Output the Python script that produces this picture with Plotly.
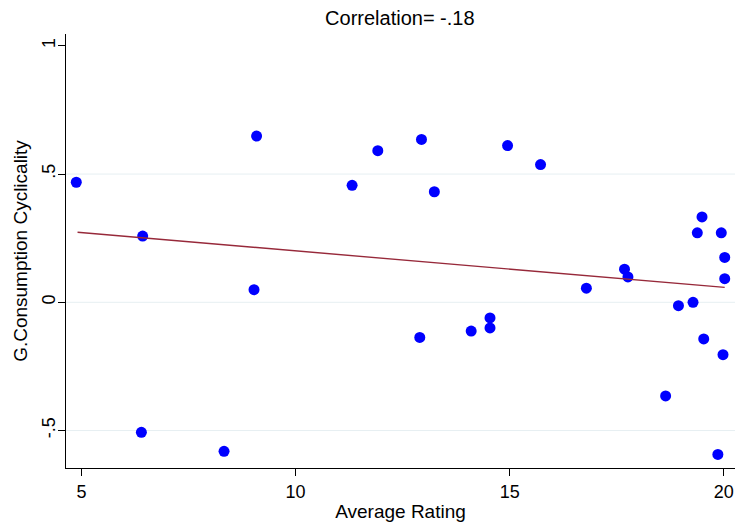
import plotly.graph_objects as go

avg_rating = [4.88, 6.43, 9.09, 11.32, 11.92, 12.94, 13.24, 14.95, 15.72, 19.49,
              19.38, 19.94, 20.02, 9.03, 6.40, 8.33, 17.68, 17.76, 16.79, 20.02,
              18.94, 19.28, 12.90, 14.10, 14.54, 14.54, 19.53, 19.98, 18.64, 19.86]
g_cycl = [0.468, 0.258, 0.648, 0.456, 0.591, 0.635, 0.431, 0.611, 0.537, 0.333,
          0.271, 0.271, 0.175, 0.049, -0.507, -0.581, 0.129, 0.099, 0.055, 0.092,
          -0.013, 0.000, -0.137, -0.112, -0.061, -0.100, -0.143, -0.204, -0.365, -0.593]

# fitted line end points
fit_x = [4.91, 20.02]
fit_y = [0.273, 0.058]

x_ticks = [5, 10, 15, 20]
y_ticks = [1, 0.5, 0, -0.5]
y_tick_text = ["1", ".5", "0", "-.5"]
grid_vals = [0.5, 0, -0.5]

fig = go.Figure()
fig.add_trace(go.Scatter(x=avg_rating, y=g_cycl, mode="markers", cliponaxis=False,
                         marker=dict(color="#0000ff", size=11, line=dict(width=0)),
                         showlegend=False))
fig.add_trace(go.Scatter(x=fit_x, y=fit_y, mode="lines", cliponaxis=False,
                         line=dict(color="#97293a", width=1.4), showlegend=False))

for g in grid_vals:
    fig.add_shape(type="line", xref="paper", x0=0, x1=1, yref="y", y0=g, y1=g,
                  line=dict(color="#e6eff2", width=1), layer="below")

font = "Liberation Sans, Arial, sans-serif"
fig.update_layout(
    width=735, height=525,
    margin=dict(l=66, r=0, t=34, b=57),
    paper_bgcolor="white", plot_bgcolor="white",
    font=dict(family=font, color="black"),
    title=dict(text="Correlation= -.18", x=0.544, xanchor="center", y=0.966, yanchor="middle",
               font=dict(size=20, family=font, color="black")),
    xaxis=dict(range=[4.64, 20.26], tickvals=x_ticks, showgrid=False, zeroline=False,
               showline=True, linecolor="black", linewidth=1, ticks="outside",
               ticklen=7, tickcolor="black", tickfont=dict(size=18), automargin=False,
               title=dict(text="Average Rating", font=dict(size=19), standoff=4)),
    yaxis=dict(range=[-0.646, 1.046], tickvals=y_ticks, ticktext=y_tick_text,
               showgrid=False, zeroline=False, showline=True, linecolor="black",
               linewidth=1, ticks="outside", ticklen=7, tickcolor="black",
               tickangle=-90, tickfont=dict(size=18), automargin=False,
               ticklabelstandoff=-4,
               title=dict(text="G.Consumption Cyclicality", font=dict(size=19), standoff=6)),
)
fig.write_html("out.html", config={"displayModeBar": False},
               post_script="document.body.style.margin='0';document.body.style.overflow='hidden';")
